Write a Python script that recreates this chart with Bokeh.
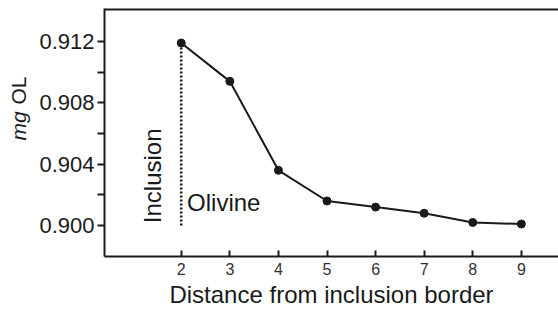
from bokeh.plotting import figure
from bokeh.layouts import row
from bokeh.models import Range1d, FixedTicker, NumeralTickFormatter, Span
from bokeh.core.properties import value
from bokeh.embed import file_html
from bokeh.resources import INLINE

# data
distance = [2, 3, 4, 5, 6, 7, 8, 9]
mg_ol = [0.9119, 0.9094, 0.9036, 0.9016, 0.9012, 0.9008, 0.9002, 0.9001]
boundary_x = [2, 2]
boundary_y = [0.900, 0.9119]
y_ticks = [0.900, 0.904, 0.908, 0.912]
y_minor = [0.902, 0.906, 0.910]
x_ticks = [2, 3, 4, 5, 6, 7, 8, 9]

FONT = "Liberation Sans"
INK = "#1a1a1a"
H = 311
LW = 36
ROT = 1.5708

p = figure(width=558 - LW, height=H, output_backend="svg", toolbar_location=None,
           x_range=Range1d(0.42, 9.765), y_range=Range1d(0.89798, 0.91415),
           min_border_left=101 - LW, min_border_right=0, min_border_top=8, min_border_bottom=55)
p.outline_line_color = None
p.xgrid.visible = False
p.ygrid.visible = False

# y axis
ya = p.yaxis[0]
ya.ticker = FixedTicker(ticks=y_ticks, minor_ticks=y_minor)
ya.formatter = NumeralTickFormatter(format="0.000")
ya.axis_line_width = 2
ya.axis_line_color = INK
ya.major_tick_line_width = 2
ya.minor_tick_line_width = 2
ya.major_tick_line_color = INK
ya.minor_tick_line_color = INK
ya.major_tick_out = 7
ya.major_tick_in = 0
ya.minor_tick_out = 7
ya.minor_tick_in = 0
ya.major_label_standoff = 3
ya.major_label_text_font = FONT
ya.major_label_text_font_size = "22px"
ya.major_label_text_color = INK

# x axis
xa = p.xaxis[0]
xa.ticker = FixedTicker(ticks=x_ticks)
xa.axis_line_width = 2
xa.axis_line_color = INK
xa.major_tick_line_width = 2
xa.major_tick_line_color = INK
xa.major_tick_in = 6
xa.major_tick_out = 0
xa.major_label_standoff = 6
xa.major_label_text_font = FONT
xa.major_label_text_font_size = "16px"
xa.major_label_text_color = "#333333"
xa.axis_label = "Distance from inclusion border"
xa.axis_label_text_font = FONT
xa.axis_label_text_font_size = "24px"
xa.axis_label_text_font_style = "normal"
xa.axis_label_text_color = INK
xa.axis_label_standoff = 3

# top border line
p.add_layout(Span(location=p.y_range.end, dimension="width", line_color=INK, line_width=4))

# data
p.line(boundary_x, boundary_y, line_color=INK, line_width=2.5, line_dash="2 2")
p.line(distance, mg_ol, line_color=INK, line_width=2)
p.scatter(distance, mg_ol, size=8, fill_color=INK, line_color=INK)

# in-plot texts
p.text(x=[1.415], y=[0.90015], text=["Inclusion"], angle=ROT,
       text_font=value(FONT), text_font_size="24px", text_color=INK,
       text_align="left", text_baseline="middle")
p.text(x=[2.12], y=[0.90152], text=["Olivine"],
       text_font=value(FONT), text_font_size="24px", text_color=INK,
       text_align="left", text_baseline="middle")

# narrow figure holding the y-axis title (italic "mg" + "OL"), sharing the y range
lab = figure(width=LW, height=H, output_backend="svg", toolbar_location=None,
             x_range=Range1d(0, LW), y_range=p.y_range,
             x_axis_type=None, y_axis_type=None,
             min_border_left=0, min_border_right=0, min_border_top=8, min_border_bottom=55)
lab.outline_line_color = None
lab.grid.visible = False
lab.text(x=[18], y=[0.90555], text=["mg"], angle=ROT,
         text_font=value(FONT), text_font_size="21px", text_font_style="italic",
         text_color=INK, text_align="left", text_baseline="middle")
lab.text(x=[18], y=[0.90789], text=["OL"], angle=ROT,
         text_font=value(FONT), text_font_size="21px",
         text_color=INK, text_align="left", text_baseline="middle")

layout = row(lab, p, spacing=0)
open("out.html", "w").write(file_html(layout, INLINE))
